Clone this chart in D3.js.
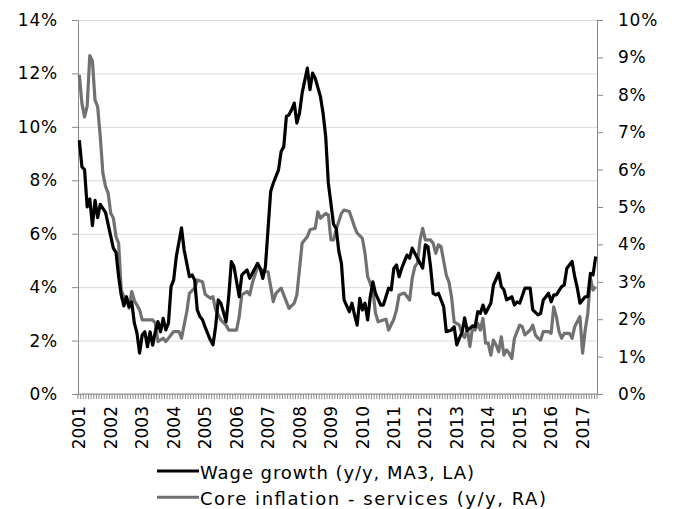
<!DOCTYPE html>
<html>
<head>
<meta charset="utf-8">
<script src="https://cdn.jsdelivr.net/npm/d3@7"></script>
<style>
  body { margin: 0; background: #fff; }
  svg text { font-family: "DejaVu Sans", Verdana, sans-serif; font-size: 17px; fill: #000; }
  .axis text { letter-spacing: 0.8px; }
  .legend text { font-size: 18px; }
  .grid line { stroke: #d9d9d9; stroke-width: 1; }
  .axis path, .axis line { stroke: #888; stroke-width: 1; }
</style>
</head>
<body>
<svg id="chart" width="676" height="509"></svg>
<script>
// wage growth, y/y MA3, left axis (%)
const wageDates = [
  "2001-01","2001-02","2001-03","2001-04","2001-05","2001-06","2001-07","2001-08","2001-09","2001-10","2001-11",
  "2002-01","2002-02","2002-03","2002-04","2002-05","2002-06","2002-07","2002-08","2002-09","2002-10","2002-11","2002-12",
  "2003-01","2003-02","2003-03","2003-04","2003-05","2003-06","2003-07","2003-08","2003-09","2003-10","2003-11","2003-12",
  "2004-01","2004-02","2004-04","2004-05","2004-07","2004-08","2004-09","2004-10","2004-11","2004-12",
  "2005-01","2005-03","2005-04","2005-05","2005-06","2005-07","2005-09","2005-10","2005-11","2005-12",
  "2006-02","2006-03","2006-05","2006-06","2006-07","2006-09","2006-10","2006-11","2006-12",
  "2007-02","2007-03","2007-05","2007-06","2007-07","2007-08","2007-09","2007-10","2007-11","2007-12",
  "2008-01","2008-02","2008-04","2008-05","2008-06","2008-07","2008-09","2008-10","2008-11","2008-12",
  "2009-02","2009-03","2009-04","2009-05","2009-06","2009-08","2009-09","2009-10","2009-11","2009-12",
  "2010-01","2010-02","2010-03","2010-04","2010-05","2010-06","2010-08","2010-09","2010-11","2010-12",
  "2011-01","2011-02","2011-03","2011-04","2011-06","2011-07","2011-08","2011-09","2011-10","2011-12",
  "2012-01","2012-02","2012-03","2012-04","2012-05","2012-06","2012-08","2012-09","2012-11","2012-12",
  "2013-01","2013-02","2013-03","2013-04","2013-05","2013-07","2013-08","2013-09","2013-10","2013-11","2013-12",
  "2014-02","2014-03","2014-05","2014-06","2014-07","2014-08","2014-10","2014-11","2014-12",
  "2015-01","2015-03","2015-05","2015-06","2015-08","2015-09","2015-10","2015-11","2015-12",
  "2016-01","2016-02","2016-03","2016-05","2016-06","2016-07","2016-09","2016-10","2016-11","2016-12",
  "2017-02","2017-03","2017-04","2017-05","2017-06"
];
const wageValues = [
  9.5,8.5,8.4,7.0,7.3,6.3,7.25,6.6,7.1,6.95,6.8,
  5.9,5.45,5.3,4.4,3.7,3.3,3.64,3.27,3.45,2.65,2.28,1.53,
  2.21,2.33,1.77,2.33,1.83,2.33,2.71,2.33,2.83,2.4,2.65,4.02,
  4.27,5.14,6.22,5.39,4.39,4.46,4.27,3.15,2.9,2.78,
  2.5,2.02,1.84,2.52,3.52,3.4,2.71,3.64,4.96,4.77,
  3.64,4.46,4.64,4.33,4.52,4.89,4.71,4.33,4.77,
  7.58,7.89,8.39,9.08,9.26,10.39,10.45,10.64,10.89,10.14,
  10.51,11.26,12.2,11.39,12.01,11.82,11.13,10.51,9.64,7.9,
  6.35,6.2,5.35,4.89,3.52,3.08,3.4,2.96,2.58,3.58,
  3.15,3.4,2.77,3.64,4.2,3.77,3.33,3.33,3.96,3.9,
  4.71,4.83,4.39,4.71,5.2,5.08,5.46,5.27,5.08,4.71,
  5.58,5.52,4.77,3.77,3.71,3.77,3.27,2.33,2.4,2.52,
  1.84,2.09,2.3,2.85,2.37,2.55,2.52,3.08,3.02,3.33,3.02,
  3.4,4.08,4.52,4.02,3.9,3.52,3.64,3.33,3.45,
  3.4,3.96,3.96,3.15,2.96,3.02,3.52,3.64,3.77,
  3.45,3.71,3.71,4.02,4.08,4.71,4.96,4.39,3.96,3.4,
  3.64,3.64,4.52,4.46,5.15
];

// core inflation - services, y/y, right axis (%)
const coreDates = [
  "2001-01","2001-02","2001-03","2001-04","2001-05","2001-06","2001-07","2001-08","2001-09","2001-10","2001-11","2001-12",
  "2002-01","2002-02","2002-03","2002-04","2002-05","2002-06","2002-07","2002-08","2002-09","2002-10","2002-12",
  "2003-01","2003-05","2003-06","2003-07","2003-08","2003-09","2003-10",
  "2004-01","2004-03","2004-04","2004-06","2004-07","2004-09","2004-10","2004-12",
  "2005-01","2005-03","2005-04","2005-05","2005-07","2005-09","2005-10",
  "2006-01","2006-02","2006-03","2006-05","2006-06","2006-07","2006-09","2006-11",
  "2007-01","2007-03","2007-04","2007-06","2007-09","2007-11","2007-12",
  "2008-02","2008-04","2008-05","2008-07","2008-08","2008-09","2008-11","2008-12",
  "2009-01","2009-02","2009-03","2009-05","2009-06","2009-08","2009-10","2009-11",
  "2010-01","2010-02","2010-03","2010-05","2010-06","2010-07","2010-09","2010-10","2010-11",
  "2011-01","2011-02","2011-03","2011-05","2011-07","2011-08","2011-09","2011-10","2011-11","2011-12",
  "2012-01","2012-03","2012-04","2012-05","2012-06","2012-07","2012-09","2012-10","2012-11","2012-12",
  "2013-02","2013-03","2013-04","2013-05","2013-06","2013-07","2013-08","2013-09","2013-10","2013-11","2013-12",
  "2014-01","2014-02","2014-03","2014-04","2014-05","2014-06","2014-07","2014-08","2014-09","2014-10","2014-11",
  "2015-01","2015-02","2015-03","2015-05","2015-06","2015-07","2015-08","2015-09","2015-10","2015-12",
  "2016-01","2016-02","2016-03","2016-04","2016-05","2016-06","2016-08","2016-09","2016-10","2016-12",
  "2017-01","2017-02","2017-03","2017-04","2017-05","2017-06"
];
const coreValues = [
  8.53,7.77,7.41,7.7,9.05,8.9,7.86,7.68,6.88,5.9,5.55,5.37,
  4.83,4.7,4.21,4.03,2.78,2.6,2.5,2.29,2.74,2.5,2.25,
  1.98,1.98,1.9,1.4,1.45,1.49,1.4,
  1.67,1.67,1.49,2.2,2.69,2.83,3.05,3.0,
  2.67,2.56,2.6,2.25,1.98,1.84,1.71,
  1.71,2.07,2.65,2.74,2.65,2.96,3.4,3.3,
  3.27,2.47,2.69,2.83,2.29,2.43,2.65,
  4.03,4.21,4.39,4.43,4.87,4.7,4.83,4.79,
  4.12,4.12,4.4,4.83,4.92,4.88,4.47,4.3,
  4.16,3.76,3.14,2.78,2.16,1.93,1.98,2.0,1.71,
  2.0,2.25,2.65,2.7,2.51,3.09,3.4,3.5,4.12,4.43,
  4.12,4.12,4.03,3.76,3.99,3.94,3.18,3.0,2.6,1.93,
  1.84,1.6,1.51,1.75,1.27,1.75,1.71,1.89,1.71,2.02,1.36,
  1.36,1.04,1.44,1.31,1.13,1.53,1.04,1.18,1.09,0.95,1.49,
  1.84,1.8,1.58,1.71,1.84,1.58,1.49,1.44,1.67,1.67,
  1.62,2.33,2.07,1.67,1.49,1.62,1.62,1.49,1.8,2.07,
  1.09,1.71,2.16,3.09,2.78,2.87
];

const leftTicks = [0, 2, 4, 6, 8, 10, 12, 14];
const rightTicks = [0, 1, 2, 3, 4, 5, 6, 7, 8, 9, 10];
const yearLabels = ["2001","2002","2003","2004","2005","2006","2007","2008","2009",
  "2010","2011","2012","2013","2014","2015","2016","2017"];
const seriesNames = ["Wage growth (y/y, MA3, LA)", "Core inflation - services (y/y, RA)"];
const seriesColors = ["#000000", "#717171"];

const plot = {left: 78, right: 597, top: 20, bottom: 394};
const legendTextWidths = [274, 346];
const svg = d3.select("#chart");

const parseMonth = d3.timeParse("%Y-%m");
const fmtMonth = d3.timeFormat("%Y-%m");
let months = d3.timeMonth.range(parseMonth("2001-01"), parseMonth("2017-07")).map(fmtMonth);

let x = d3.scaleBand().domain(months).range([plot.left, plot.right]);
let xc = d => x(d) + x.bandwidth() / 2;
let yLeft = d3.scaleLinear().domain([0, 14]).range([plot.bottom, plot.top]);
let yRight = d3.scaleLinear().domain([0, 10]).range([plot.bottom, plot.top]);

// gridlines
svg.append("g")
    .attr("class", "grid")
    .attr("transform", "translate(" + plot.left + ",0)")
    .call(d3.axisLeft(yLeft).tickValues(leftTicks).tickSize(-(plot.right - plot.left)).tickFormat(""))
    .call(g => g.select(".domain").remove());

// left axis
svg.append("g")
    .attr("class", "axis")
    .attr("transform", "translate(" + plot.left + ",0)")
    .call(d3.axisLeft(yLeft).tickValues(leftTicks).tickSize(6).tickPadding(14).tickSizeOuter(0)
        .tickFormat(d => d + "%"));

// right axis
svg.append("g")
    .attr("class", "axis")
    .attr("transform", "translate(" + plot.right + ",0)")
    .call(d3.axisRight(yRight).tickValues(rightTicks).tickSize(6).tickPadding(15).tickSizeOuter(0)
        .tickFormat(d => d + "%"));

// x axis: monthly tick marks at category edges
let xAxis = svg.append("g").attr("class", "axis");
xAxis.selectAll(".mtick")
    .data(months.concat(["end"]))
    .enter().append("line")
    .attr("x1", d => d === "end" ? plot.right : x(d))
    .attr("x2", d => d === "end" ? plot.right : x(d))
    .attr("y1", plot.bottom)
    .attr("y2", plot.bottom + 5);
xAxis.append("line")
    .attr("x1", plot.left).attr("x2", plot.right)
    .attr("y1", plot.bottom).attr("y2", plot.bottom);

svg.append("g").selectAll("text")
    .data(yearLabels)
    .enter().append("text")
    .attr("transform", d => "translate(" + xc(d + "-01") + "," + 406 + ") rotate(-90)")
    .attr("text-anchor", "end")
    .attr("dy", "0.36em")
    .text(d => d);

// lines
let wageData = wageDates.map((d, i) => ({date: d, value: wageValues[i]}));
let coreData = coreDates.map((d, i) => ({date: d, value: coreValues[i]}));

let lineLeft = d3.line().x(d => xc(d.date)).y(d => yLeft(d.value));
let lineRight = d3.line().x(d => xc(d.date)).y(d => yRight(d.value));

svg.append("path")
    .datum(coreData)
    .attr("fill", "none")
    .attr("stroke", seriesColors[1])
    .attr("stroke-width", 3.2)
    .attr("stroke-linejoin", "round")
    .attr("d", lineRight);

svg.append("path")
    .datum(wageData)
    .attr("fill", "none")
    .attr("stroke", seriesColors[0])
    .attr("stroke-width", 3.2)
    .attr("stroke-linejoin", "round")
    .attr("d", lineLeft);

// legend
let legend = svg.append("g").attr("class", "legend").selectAll("g")
    .data(seriesNames)
    .enter().append("g")
    .attr("transform", (d, i) => "translate(157," + (471 + i * 26.3) + ")");
legend.append("line")
    .attr("x1", 0).attr("x2", 42)
    .attr("stroke", (d, i) => seriesColors[i])
    .attr("stroke-width", 3);
legend.append("text")
    .attr("x", 43)
    .attr("y", 8)
    .attr("textLength", (d, i) => legendTextWidths[i])
    .attr("lengthAdjust", "spacing")
    .text(d => d);
</script>
</body>
</html>
